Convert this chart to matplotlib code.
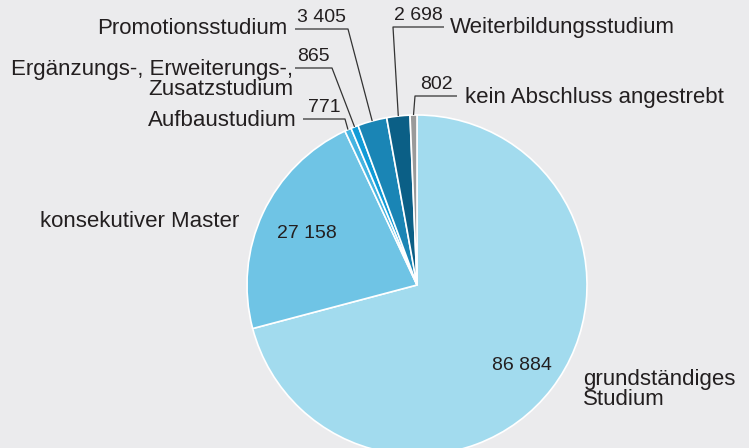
import numpy as np
import matplotlib.pyplot as plt

# Data (clockwise from top)
categories = ["grundständiges\nStudium", "konsekutiver Master", "Aufbaustudium",
              "Ergänzungs-, Erweiterungs-,\nZusatzstudium", "Promotionsstudium",
              "Weiterbildungsstudium", "kein Abschluss angestrebt"]
values = [86884, 27158, 771, 865, 3405, 2698, 802]
value_labels = ["86 884", "27 158", "771", "865", "3 405", "2 698", "802"]
colors = ["#a2dbee", "#6fc4e5", "#45b4e1", "#109bd7", "#1a85b5", "#0b5f86", "#9a9a9a"]

W, H = 749, 448
bg = "#ebebed"
txt = "#231f20"
fs_label = 16
fs_num = 14
plt.rcParams['font.family'] = ['Liberation Sans', 'DejaVu Sans']


def py(y):
    # pixel row -> data y
    return H - y


fig = plt.figure(figsize=(W / 100, H / 100), dpi=100, facecolor=bg)
ax = fig.add_axes([0, 0, 1, 1])
ax.set_facecolor(bg)

cx, cy, R = 417, py(285), 170
wedges, _ = ax.pie(values, colors=colors, startangle=90, counterclock=False,
                   center=(cx, cy), radius=R, frame=True,
                   wedgeprops=dict(edgecolor="white", linewidth=1.2))
ax.set_xlim(0, W)
ax.set_ylim(0, H)
ax.set_aspect('equal')
ax.axis('off')


def mid_point(w, r):
    a = np.deg2rad((w.theta1 + w.theta2) / 2)
    return cx + r * np.cos(a), cy + r * np.sin(a)


# numbers inside the two big slices
for i, r in [(0, 132), (1, 122)]:
    x, y = mid_point(wedges[i], r)
    ax.text(x, y, value_labels[i], ha='center', va='center', fontsize=fs_num, color=txt)

ax.text(239, py(227), categories[1], ha='right', va='baseline', fontsize=fs_label, color=txt)
ax.text(583, py(405), categories[0], ha='left', va='baseline', fontsize=fs_label,
        color=txt, linespacing=0.92)

# leaders for small slices: (index, horiz outer x, elbow x, line y, label x, label y, label ha)
leaders = [
    (2, 303, 345, 119, 297, 126, 'right'),
    (3, 295, 332, 68, 293, 95, 'right'),
    (4, 295, 348, 29, 287, 34, 'right'),
    (5, 444, 393, 27, 450, 33, 'left'),
    (6, 457, 415, 96, 465, 103, 'left'),
]
for i, x_out, x_elb, y_line, lx, ly, ha in leaders:
    ex, ey = mid_point(wedges[i], R)
    ax.plot([x_out, x_elb, ex], [py(y_line), py(y_line), ey], color="#333333", lw=0.9,
            solid_capstyle='butt')
    ax.text((x_out + x_elb) / 2, py(y_line - 3), value_labels[i], ha='center', va='bottom',
            fontsize=fs_num, color=txt)
    ax.text(lx, py(ly), categories[i], ha=ha, va='baseline', multialignment=ha,
            fontsize=fs_label, color=txt, linespacing=0.92)

fig.savefig("out.png", dpi=100, facecolor=bg)
